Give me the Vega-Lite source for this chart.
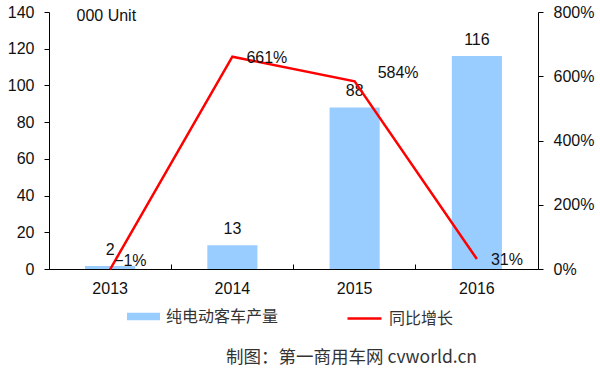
{
  "$schema": "https://vega.github.io/schema/vega-lite/v6.json",
  "width": 489,
  "height": 257,
  "autosize": {"type": "none"},
  "padding": {"left": 49, "top": 12, "right": 62, "bottom": 107},
  "background": "white",
  "config": {
    "view": {"stroke": null},
    "font": "Liberation Sans",
    "axis": {"grid": false, "domainColor": "#000", "tickColor": "#000", "labelColor": "#111", "labelFontSize": 16, "labelFont": "Liberation Sans"},
    "legend": {"orient": "none", "direction": "horizontal", "padding": 0, "labelFont": "Noto Sans CJK SC", "labelFontSize": 16, "labelColor": "#333", "title": null}
  },
  "data": {"values": [
    {"year": "2013", "units": 1.7, "growth": -1},
    {"year": "2014", "units": 13, "growth": 661},
    {"year": "2015", "units": 88, "growth": 584},
    {"year": "2016", "units": 116, "growth": 31}
  ]},
  "transform": [{"calculate": "format(datum.growth, '.0f') + '%'", "as": "growthLabel"}],
  "encoding": {
    "x": {"field": "year", "type": "nominal", "sort": null,
      "scale": {"paddingInner": 0, "paddingOuter": 0},
      "axis": {"labelAngle": 0, "bandPosition": 0, "tickExtra": true, "tickSize": -5, "labelPadding": 16, "domainColor": "#000",
        "title": "制图：第一商用车网  cvworld.cn", "titleX": 302, "titleY": 88, "titleAlign": "center", "titleBaseline": "middle",
        "titleFont": "Noto Sans CJK SC", "titleFontSize": 17.5, "titleFontWeight": "normal", "titleColor": "#333"}}
  },
  "layer": [
    {
      "encoding": {
        "y": {"field": "units", "type": "quantitative",
          "scale": {"domain": [0, 140], "nice": false},
          "axis": {"orient": "left", "values": [0, 20, 40, 60, 80, 100, 120, 140], "tickSize": 5, "labelPadding": 10,
            "title": "000 Unit", "titleAngle": 0, "titleAlign": "left", "titleBaseline": "middle", "titleX": 27, "titleY": 3,
            "titleFontWeight": "normal", "titleFontSize": 16, "titleColor": "#111", "titleFont": "Liberation Sans"}}
      },
      "layer": [
        {
          "mark": {"type": "bar", "width": {"band": 0.41}},
          "encoding": {
            "fill": {"datum": "纯电动客车产量", "scale": {"range": ["#99CCFF"]},
              "legend": {"legendX": 78, "legendY": 288, "symbolType": "M-1,-0.22H1V0.22H-1Z", "symbolSize": 1089, "symbolStrokeWidth": 0, "labelOffset": 6}}
          }
        },
        {
          "mark": {"type": "text", "dy": -16, "fontSize": 16, "color": "#111", "font": "Liberation Sans"},
          "encoding": {"text": {"field": "units", "type": "quantitative", "format": ".0f"}}
        }
      ]
    },
    {
      "encoding": {
        "y": {"field": "growth", "type": "quantitative",
          "scale": {"domain": [0, 800], "nice": false},
          "axis": {"orient": "right", "values": [0, 200, 400, 600, 800], "tickSize": 5, "labelPadding": 10, "title": null,
            "labelExpr": "datum.value + '%'"}}
      },
      "layer": [
        {
          "mark": {"type": "line", "strokeWidth": 2.5},
          "encoding": {
            "stroke": {"datum": "同比增长", "scale": {"range": ["#FF0000"]},
              "legend": {"legendX": 297, "legendY": 288, "symbolType": "stroke", "symbolSize": 1156, "symbolStrokeWidth": 2.5, "labelOffset": 6}}
          }
        },
        {
          "transform": [{"filter": "datum.year == '2014' || datum.year == '2016'"}],
          "mark": {"type": "text", "align": "left", "dx": 14, "dy": 1, "fontSize": 16, "color": "#111"},
          "encoding": {"text": {"field": "growthLabel", "type": "nominal"}}
        },
        {
          "transform": [{"filter": "datum.year == '2015'"}],
          "mark": {"type": "text", "align": "left", "dx": 23, "dy": -8, "fontSize": 16, "color": "#111"},
          "encoding": {"text": {"field": "growthLabel", "type": "nominal"}}
        },
        {
          "transform": [{"filter": "datum.year == '2013'"}],
          "mark": {"type": "text", "align": "left", "dx": 4, "dy": -8, "fontSize": 16, "color": "#111"},
          "encoding": {"text": {"field": "growthLabel", "type": "nominal"}}
        }
      ]
    }
  ],
  "resolve": {"scale": {"y": "independent"}}
}
